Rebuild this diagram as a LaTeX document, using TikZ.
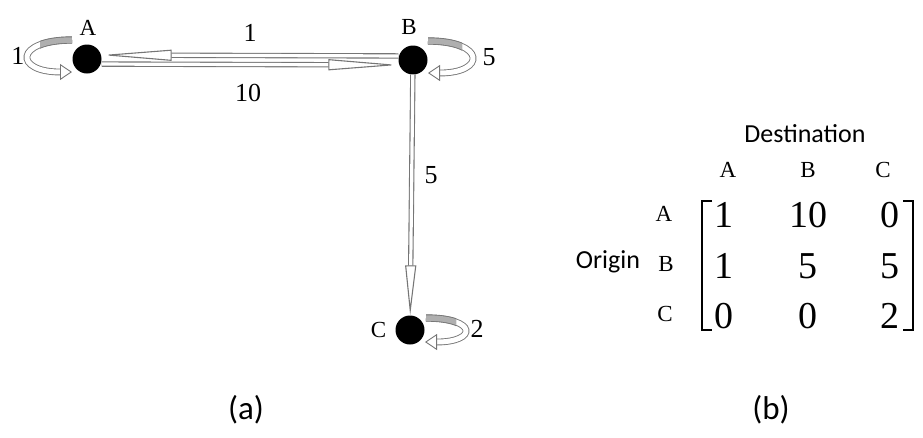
\documentclass[tikz,border=0pt]{standalone}
\usepackage{fontspec}
\setmainfont{Liberation Serif}
\setsansfont{Carlito}
\usetikzlibrary{arrows.meta,positioning,calc}
\definecolor{graphedgegray}{RGB}{118,118,118}
\definecolor{graphloopgray}{RGB}{175,175,175}
\tikzset{
  graph dot/.style={
    circle,
    fill=black,
    minimum size=29pt,
    inner sep=0pt,
  },
  node label/.style={
    font=\fontsize{23}{25}\selectfont,
    inner sep=1pt,
  },
  weight label/.style={
    font=\fontsize{26}{28}\selectfont,
    inner sep=1pt,
  },
  hollow edge/.style={
    draw=graphedgegray,
    line width=1.1pt,
    double=white,
    double distance=3.2pt,
    -{Triangle[open, length=70pt, width=11pt]},
  },
  short head/.style={
    -{Triangle[open, length=50pt, width=11pt]},
  },
  self loop/.style={
    draw=graphedgegray,
    line width=0.9pt,
    double=white,
    double distance=5pt,
    -{Triangle[open, length=12pt, width=16pt]},
  },
  loop shade/.style={
    draw=graphedgegray,
    line width=0.9pt,
    double=graphloopgray,
    double distance=5.5pt,
  },
  matrix label/.style={
    font=\fontsize{23}{25}\selectfont,
    inner sep=1pt,
  },
  matrix entry/.style={
    font=\fontsize{38}{40}\selectfont,
    inner sep=1pt,
  },
  side text/.style={
    font=\sffamily\fontsize{26}{28}\selectfont,
    inner sep=1pt,
  },
  caption text/.style={
    font=\sffamily\fontsize{33}{35}\selectfont,
    inner sep=1pt,
  },
  bracket/.style={
    draw=black,
    line width=1.6pt,
  },
}
\begin{document}
\begin{tikzpicture}[x=1pt,y=-1pt]
  \useasboundingbox (0,0) rectangle (923,437);

  % graph (a)
  \node[graph dot] (A) at (87,59) {};
  \node[graph dot] (B) at (413,60) {};
  \node[graph dot] (C) at (410,330) {};

  \node[node label] (labA) at (88,28) {A};
  \node[node label] (labB) at (409,27) {B};
  \node[node label, left=8pt of C] (labC) {C};

  \draw[hollow edge, transform canvas={yshift=4pt}] (B) -- (A);
  \draw[hollow edge, transform canvas={yshift=-5pt}] (A) -- (B);
  \draw[hollow edge, short head] (B) -- (C);

  % self loops, upper band shaded
  \draw[self loop] ($(A)+(-15,-19)$) .. controls +(180:58) and +(180:58) .. ($(A)+(-15,13)$);
  \begin{scope}
    \clip (40,30) rectangle (80,52);
    \draw[loop shade] ($(A)+(-15,-19)$) .. controls +(180:58) and +(180:58) .. ($(A)+(-15,13)$);
  \end{scope}
  \draw[self loop] ($(B)+(15,-19)$) .. controls +(0:58) and +(0:58) .. ($(B)+(15,13)$);
  \begin{scope}
    \clip (420,30) rectangle (462,52);
    \draw[loop shade] ($(B)+(15,-19)$) .. controls +(0:58) and +(0:58) .. ($(B)+(15,13)$);
  \end{scope}
  \draw[self loop] ($(C)+(16,-12)$) .. controls +(0:52) and +(0:52) .. ($(C)+(15,12)$);
  \begin{scope}
    \clip (418,305) rectangle (456,326);
    \draw[loop shade] ($(C)+(16,-12)$) .. controls +(0:52) and +(0:52) .. ($(C)+(15,12)$);
  \end{scope}

  \node[weight label] (wAA) at (18,56) {1};
  \node[weight label] (wBA) at (250,33) {1};
  \node[weight label] (wAB) at (248,93) {10};
  \node[weight label] (wBB) at (489,57) {5};
  \node[weight label] (wBC) at (431,175) {5};
  \node[weight label] (wCC) at (477,329) {2};

  % matrix (b)
  \node[side text] (dest) at (805,134) {Destination};
  \node[matrix label] (colA) at (728,170) {A};
  \node[matrix label] (colB) at (808,170) {B};
  \node[matrix label] (colC) at (883,170) {C};
  \node[matrix label] (rowA) at (664,214) {A};
  \node[matrix label] (rowB) at (666,264) {B};
  \node[matrix label] (rowC) at (665,314) {C};
  \node[side text] (origin) at (608,262) {Origin};

  \node[matrix entry] (m11) at (724,215) {1};
  \node[matrix entry] (m12) at (808,215) {10};
  \node[matrix entry] (m13) at (890,215) {0};
  \node[matrix entry] (m21) at (724,266) {1};
  \node[matrix entry] (m22) at (808,266) {5};
  \node[matrix entry] (m23) at (890,266) {5};
  \node[matrix entry] (m31) at (724,316) {0};
  \node[matrix entry] (m32) at (808,316) {0};
  \node[matrix entry] (m33) at (890,316) {2};

  \draw[bracket] (712,201) -- (702,201) -- (702,330) -- (712,330);
  \draw[bracket] (903,201) -- (913,201) -- (913,330) -- (903,330);

  \node[caption text] (capa) at (246,410) {(a)};
  \node[caption text] (capb) at (771,410) {(b)};
\end{tikzpicture}
\end{document}
